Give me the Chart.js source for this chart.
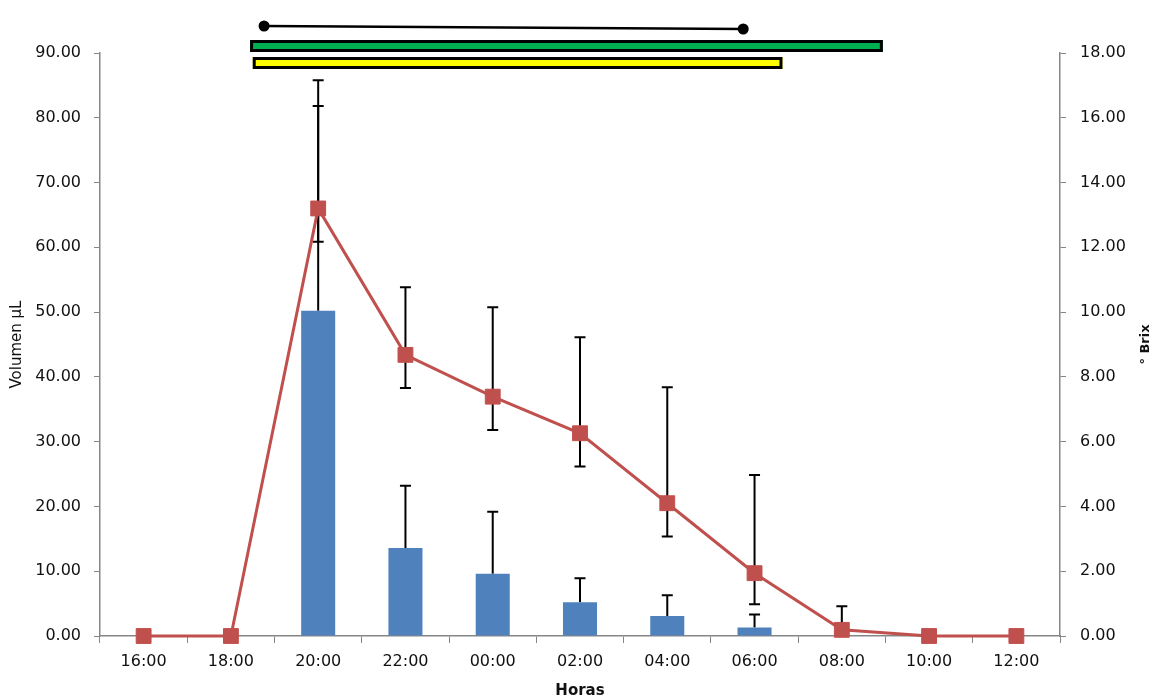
<!DOCTYPE html>
<html>
<head>
<meta charset="utf-8">
<script src="https://cdn.jsdelivr.net/npm/chart.js@4.4.0/dist/chart.umd.min.js"></script>
<style>
  body { margin: 0; background: #fff; }
</style>
</head>
<body>
<canvas id="chart" width="1156" height="700"></canvas>
<script>
const horas = ["16:00", "18:00", "20:00", "22:00", "00:00", "02:00", "04:00", "06:00", "08:00", "10:00", "12:00"];
const volumen = [0, 0, 50.2, 13.6, 9.6, 5.2, 3.1, 1.3, 0, 0, 0];
const volumenErr = [0, 0, 31.6, 9.6, 9.6, 3.7, 3.2, 2.0, 0, 0, 0];
const brix = [0, 0, 13.2, 8.68, 7.39, 6.26, 4.1, 1.94, 0.19, 0, 0];
const brixErrUp = [0, 0, 3.96, 2.09, 2.76, 2.96, 3.58, 3.03, 0.73, 0, 0];
const brixErrDown = [0, 0, 1.03, 1.02, 1.03, 1.03, 1.03, 0.96, 0, 0, 0];

// periodos de arriba (en unidades de categoria, 0 = 16:00): linea negra, verde, amarilla
const periodoInicio = [1.38, 1.22, 1.25];
const periodoFin = [6.87, 8.47, 7.32];

const gris = "#868686";
const fuente = "'DejaVu Sans', Verdana, sans-serif";

// barras de error
const errorBars = {
  id: "errorBars",
  beforeDatasetsDraw(chart) {
    const ctx = chart.ctx;
    const x = chart.scales.x;
    const yl = chart.scales.y;
    const yr = chart.scales.y2;
    const cap = 5.5;
    ctx.save();
    ctx.strokeStyle = "#000";
    ctx.lineWidth = 2;
    function seg(px, a, b, capA, capB) {
      ctx.beginPath();
      ctx.moveTo(px, a);
      ctx.lineTo(px, b);
      if (capA) { ctx.moveTo(px - cap, a); ctx.lineTo(px + cap, a); }
      if (capB) { ctx.moveTo(px - cap, b); ctx.lineTo(px + cap, b); }
      ctx.stroke();
    }
    for (let i = 0; i < horas.length; i++) {
      const px = x.getPixelForValue(i);
      if (volumenErr[i] > 0) {
        seg(px, yl.getPixelForValue(volumen[i] + volumenErr[i]), yl.getPixelForValue(volumen[i]), true, false);
      }
      if (brixErrUp[i] > 0) {
        seg(px, yr.getPixelForValue(brix[i] + brixErrUp[i]), yr.getPixelForValue(brix[i]), true, false);
      }
      if (brixErrDown[i] > 0) {
        seg(px, yr.getPixelForValue(brix[i]), yr.getPixelForValue(brix[i] - brixErrDown[i]), false, true);
      }
    }
    ctx.restore();
  }
};

// titulo derecho y barras de periodo
const extras = {
  id: "extras",
  afterDraw(chart) {
    const ctx = chart.ctx;
    const x = chart.scales.x;
    const area = chart.chartArea;
    ctx.save();

    ctx.translate(1146, (area.top + area.bottom) / 2);
    ctx.rotate(-Math.PI / 2);
    ctx.fillStyle = "#111";
    ctx.font = "bold 13px " + fuente;
    ctx.textAlign = "center";
    ctx.textBaseline = "middle";
    ctx.fillText("° Brix", 0, 0);
    ctx.setTransform(1, 0, 0, 1, 0, 0);

    // linea con puntos
    const a = x.getPixelForValue(periodoInicio[0]);
    const b = x.getPixelForValue(periodoFin[0]);
    ctx.strokeStyle = "#000";
    ctx.fillStyle = "#000";
    ctx.lineWidth = 2.5;
    ctx.beginPath();
    ctx.moveTo(a, 26);
    ctx.lineTo(b, 29);
    ctx.stroke();
    ctx.beginPath();
    ctx.arc(a, 26, 5.5, 0, Math.PI * 2);
    ctx.arc(b, 29, 5.5, 0, Math.PI * 2);
    ctx.fill();

    // rectangulos
    const colores = ["#00B050", "#FFFF00"];
    const tops = [40, 57];
    for (let k = 1; k < 3; k++) {
      const x1 = x.getPixelForValue(periodoInicio[k]);
      const x2 = x.getPixelForValue(periodoFin[k]);
      ctx.fillStyle = colores[k - 1];
      ctx.fillRect(x1, tops[k - 1], x2 - x1, 12);
      ctx.lineWidth = 3;
      ctx.strokeStyle = "#000";
      ctx.strokeRect(x1 + 1.5, tops[k - 1] + 1.5, x2 - x1 - 3, 9);
    }
    ctx.restore();
  }
};

Chart.defaults.font.family = fuente;
Chart.defaults.font.size = 16;
Chart.defaults.color = "#111";

let context = document.querySelector("#chart").getContext("2d");
new Chart(context, {
  type: "bar",
  data: {
    labels: horas,
    datasets: [
      {
        type: "line",
        data: brix,
        yAxisID: "y2",
        borderColor: "#C0504D",
        backgroundColor: "#C0504D",
        borderWidth: 3,
        pointStyle: "rect",
        pointRadius: 10.5,
        pointBorderWidth: 1,
        pointBackgroundColor: "#C0504D",
        pointBorderColor: "#C0504D",
        tension: 0,
        clip: false,
        order: 0,
      },
      {
        data: volumen,
        yAxisID: "y",
        backgroundColor: "#4F81BD",
        barPercentage: 0.39,
        categoryPercentage: 1,
        order: 1,
      },
    ],
  },
  options: {
    responsive: false,
    animation: false,
    layout: {
      padding: { top: 53, left: 0, right: 0, bottom: 0 },
    },
    scales: {
      x: {
        offset: true,
        grid: {
          offset: true,
          drawOnChartArea: false,
          color: gris,
          tickLength: 7,
        },
        border: { color: gris, width: 1.5 },
        ticks: { maxRotation: 0, autoSkip: false, padding: 9 },
        title: {
          display: true,
          text: "Horas",
          font: { size: 15, weight: "bold" },
          padding: { top: 0, bottom: 0 },
        },
        afterFit: (s) => { s.height = 64; },
      },
      y: {
        position: "left",
        min: 0,
        max: 90,
        ticks: {
          stepSize: 10,
          padding: 13,
          callback: (v) => v.toFixed(2),
        },
        grid: { drawOnChartArea: false, color: gris, tickLength: 6 },
        border: { color: gris, width: 1.5 },
        title: {
          display: true,
          text: "Volumen µL",
          font: { size: 15 },
          padding: { top: 8, bottom: 0 },
        },
        afterFit: (s) => { s.width = 100; },
      },
      y2: {
        position: "right",
        min: 0,
        max: 18,
        ticks: {
          stepSize: 2,
          padding: 14,
          callback: (v) => v.toFixed(2),
        },
        grid: { drawOnChartArea: false, color: gris, tickLength: 6 },
        border: { color: gris, width: 1.5 },
        afterFit: (s) => { s.width = 96; },
      },
    },
    plugins: {
      legend: { display: false },
      tooltip: { enabled: false },
    },
  },
  plugins: [errorBars, extras],
});
</script>
</body>
</html>
